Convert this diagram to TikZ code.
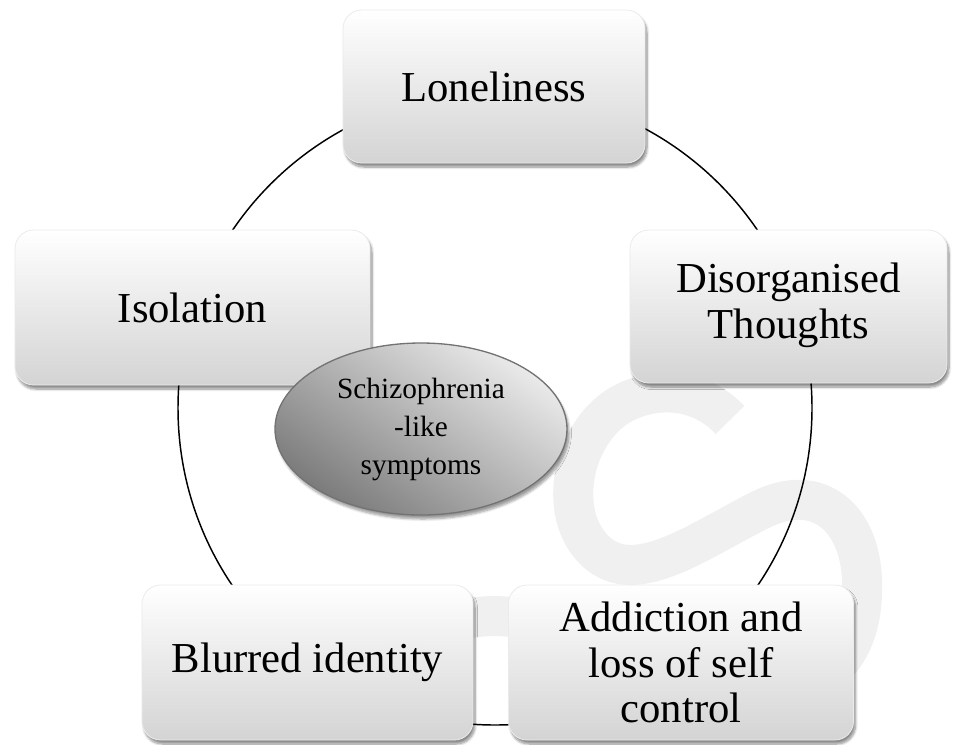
\documentclass[tikz,border=0pt]{standalone}
\usepackage{fontspec}
\setmainfont{Liberation Serif}
\usetikzlibrary{shapes.geometric,shadows.blur}
\tikzset{
  box/.style={rectangle, rounded corners=14pt, draw=black!8, line width=0.6pt,
    top color=white, bottom color=black!17, align=center,
    font=\fontsize{32}{34}\selectfont,
    blur shadow={shadow xshift=1.5pt, shadow yshift=-3pt, shadow blur steps=8, shadow opacity=45}},
  core/.style={ellipse, draw=black!55, line width=1pt, inner sep=0pt,
    shading=axis, top color=black!8, bottom color=black!52, shading angle=-35,
    align=center, font=\fontsize{22}{28.5}\selectfont,
    blur shadow={shadow xshift=1.5pt, shadow yshift=-3pt, shadow blur steps=6, shadow opacity=40}},
  ringline/.style={draw=black, line width=1.1pt},
  wmark/.style={draw=black!6, line width=30pt}
}
\begin{document}
\begin{tikzpicture}[x=0.75pt,y=-0.75pt]
\useasboundingbox (0,0) rectangle (957,744);
% faint watermark
\draw[wmark] (730,420) .. controls (700,388) and (655,385) .. (620,405)
  .. controls (570,435) and (555,520) .. (600,555)
  .. controls (640,585) and (700,540) .. (760,510)
  .. controls (820,480) and (860,520) .. (862,580)
  .. controls (865,660) and (820,700) .. (740,690)
  .. controls (640,680) and (540,580) .. (430,630);
% ring
\node[circle, ringline, minimum size=475.5pt, inner sep=0pt] (ring) at (495,408) {};
% boxes
\node[box, minimum width=226.5pt, minimum height=114.75pt] (lone) at (494,86.5) {Loneliness};
\node[box, minimum width=266.25pt, minimum height=116.25pt] (iso) at (192.5,307.5) {Isolation};
\node[box, minimum width=237.75pt, minimum height=114.75pt] (dis) at (788.5,306.5)
  {\raisebox{-4pt}{\begin{tabular}{@{}c@{}}Disorganised\\Thoughts\end{tabular}}};
\node[box, minimum width=248.25pt, minimum height=116.25pt] (blur) at (307.5,662.5) {Blurred identity};
\node[box, minimum width=258.75pt, minimum height=116.25pt] (add) at (681,662.5) {Addiction and\\loss of self\\control};
% centre
\node[core, minimum width=219pt, minimum height=129pt] (schiz) at (421,429) {Schizophrenia\\-like\\symptoms};
\end{tikzpicture}
\end{document}
